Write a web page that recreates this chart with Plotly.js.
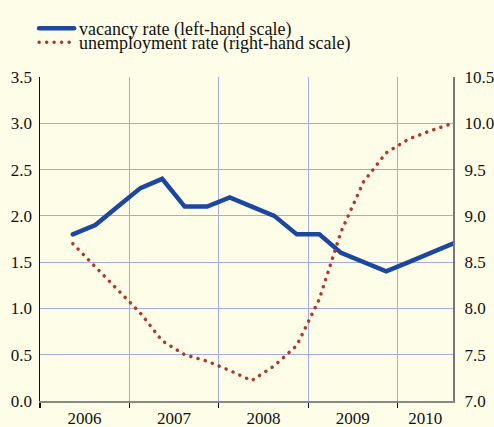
<!DOCTYPE html>
<html>
<head>
<meta charset="utf-8">
<script src="https://cdn.plot.ly/plotly-3.0.1.min.js"></script>
<style>
  html, body { margin: 0; padding: 0; background: #FEFDE8; }
  #chart { width: 494px; height: 427px; }
  path.js-line { stroke-linecap: round; }
  #chart svg text { font-family: "Liberation Serif", "Times New Roman", Times, serif !important; }
</style>
</head>
<body>
<div id="chart"></div>
<script>
// Quarterly observations
const quarters = ['2006Q2','2006Q3','2006Q4','2007Q1','2007Q2','2007Q3','2007Q4',
                  '2008Q1','2008Q2','2008Q3','2008Q4','2009Q1','2009Q2','2009Q3','2009Q4',
                  '2010Q1','2010Q2','2010Q3'];
const vacancyRate = [1.8, 1.9, 2.1, 2.3, 2.4, 2.1, 2.1, 2.2, 2.1, 2.0, 1.8, 1.8, 1.6, 1.5, 1.4, 1.5, 1.6, 1.7];
const unemploymentRate = [8.7, 8.45, 8.2, 7.95, 7.65, 7.5, 7.43, 7.33, 7.22, 7.38, 7.6, 8.1, 8.83, 9.37, 9.68, 9.83, 9.92, 10.0];
const yearLabels = ['2006','2007','2008','2009','2010'];
const yearLabelPos = ['2006-07-02','2007-07-02','2008-07-02','2009-07-02','2010-04-24'];

function midQuarter(q) {
  const y = q.slice(0, 4);
  const m = {1: '02', 2: '05', 3: '08', 4: '11'}[q.slice(5)];
  return y + '-' + m + '-15';
}
const xDates = quarters.map(midQuarter);

const gridColor = '#A3ABE3';
const serif = 'Times New Roman';

const traces = [
  {
    x: xDates, y: vacancyRate, name: 'vacancy rate (left-hand scale)',
    type: 'scatter', mode: 'lines', yaxis: 'y', legend: 'legend',
    line: {color: '#1B47A1', width: 4.5}
  },
  {
    x: xDates, y: unemploymentRate, name: 'unemployment rate (right-hand scale)',
    type: 'scatter', mode: 'lines', yaxis: 'y2', legend: 'legend2',
    line: {color: '#B5352C', width: 3.5, dash: '0.1px,7.4px'}
  }
];

function legendBox(yTop) {
  return {
    xref: 'container', yref: 'container',
    x: 0.069, y: yTop, xanchor: 'left', yanchor: 'top',
    bgcolor: 'rgba(0,0,0,0)', font: {family: serif, size: 18, color: '#111'},
    itemwidth: 35
  };
}

const layout = {
  width: 494, height: 427,
  margin: {l: 40, r: 41, t: 77, b: 26, autoexpand: false},
  paper_bgcolor: '#FEFDE8', plot_bgcolor: '#FEFDE8',
  font: {family: serif, size: 17, color: '#111'},
  showlegend: true,
  legend: legendBox(1 - 10 / 427),
  legend2: legendBox(1 - 24 / 427),
  xaxis: {
    type: 'date', range: ['2006-01-01', '2010-08-15'],
    tickmode: 'array', tickvals: yearLabelPos, ticktext: yearLabels,
    ticks: '', showgrid: false, zeroline: false, tickangle: 0, automargin: false,
    ticklabelstandoff: 1,
    showline: true, linecolor: '#888', linewidth: 1.5,
    tickfont: {family: serif, size: 17, color: '#111'},
    minor: {
      tickmode: 'linear', tick0: '2006-01-01', dtick: 'M12',
      ticks: 'outside', ticklen: 5, tickcolor: '#111', tickwidth: 1.5,
      showgrid: true, gridcolor: gridColor, gridwidth: 1
    }
  },
  yaxis: {
    range: [0, 3.5], dtick: 0.5, tick0: 0, tickformat: '.1f', automargin: false,
    showgrid: true, gridcolor: gridColor, gridwidth: 1, zeroline: false,
    showline: true, linecolor: '#111', linewidth: 1.5, ticks: '',
    ticklabelstandoff: 3,
    tickfont: {family: serif, size: 17, color: '#111'}
  },
  yaxis2: {
    range: [7, 10.5], dtick: 0.5, tick0: 7, tickformat: '.1f', automargin: false,
    overlaying: 'y', side: 'right', showgrid: false, zeroline: false,
    showline: true, linecolor: '#777', linewidth: 2, ticks: '',
    ticklabelstandoff: 6,
    tickfont: {family: serif, size: 17, color: '#111'}
  }
};

Plotly.newPlot('chart', traces, layout, {displayModeBar: false, staticPlot: true});
</script>
</body>
</html>
